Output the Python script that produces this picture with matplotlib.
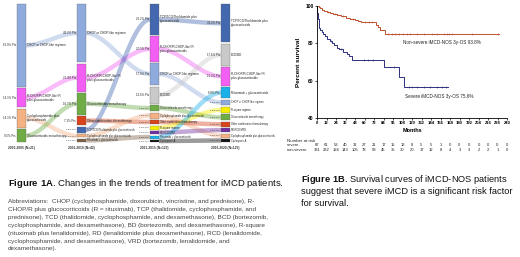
import numpy as np
import matplotlib.pyplot as plt
from matplotlib.transforms import blended_transform_factory

plt.rcParams['font.family'] = ['Liberation Sans', 'DejaVu Sans']
plt.rcParams['mathtext.fontset'] = 'custom'
plt.rcParams['mathtext.rm'] = 'Liberation Sans'
plt.rcParams['mathtext.bf'] = 'Liberation Sans:bold'

# ---------------- Figure 1A: treatment regimens per period ----------------
periods = ['2000-2005 (N=21)', '2006-2010 (N=42)', '2011-2015 (N=123)', '2016-2020 (N=125)']

col1_keys = ['CHOP', 'RCHOP', 'CYC', 'GC']
col1_pct = [61.90, 14.29, 14.29, 9.52]

col2_keys = ['CHOP', 'RCHOP', 'GC', 'OTHER', 'TCP', 'CYC', 'IMM']
col2_pct = [45.24, 21.43, 16.67, 7.14, 4.76, 2.38, 2.38]

col3_keys = ['TCP', 'RCHOP', 'CHOP', 'BCD', 'GC', 'CYC', 'OTHER', 'R2', 'RD', 'RITUX', 'CSA']
col3_pct = [25.20, 20.33, 17.89, 13.82, 4.88, 4.88, 3.25, 3.25, 2.44, 2.44, 1.63]

col4_keys = ['TCP', 'BCD', 'RCHOP', 'RITUX', 'CHOP', 'R2', 'GC', 'OTHER', 'RD', 'CYC', 'CSA']
col4_pct = [31.20, 17.60, 15.20, 8.80, 4.80, 4.80, 4.80, 4.00, 3.20, 3.20, 2.40]

flows_12 = [('CHOP', 'CHOP'), ('RCHOP', 'RCHOP'), ('CYC', 'CYC'), ('GC', 'GC')]
flows_23 = [('CHOP', 'CHOP'), ('RCHOP', 'RCHOP'), ('GC', 'GC'), ('OTHER', 'OTHER'),
            ('TCP', 'TCP'), ('CYC', 'CYC'), ('IMM', 'RITUX')]
flows_34 = [('TCP', 'TCP'), ('RCHOP', 'RCHOP'), ('CHOP', 'CHOP'), ('BCD', 'BCD'), ('GC', 'GC'),
            ('CYC', 'CYC'), ('OTHER', 'OTHER'), ('R2', 'R2'), ('RD', 'RD'), ('RITUX', 'RITUX'),
            ('CSA', 'CSA')]

names = {
    'CHOP': 'CHOP or CHOP-like regimen',
    'RCHOP': 'R-CHOP/R-CHOP-like/ R\nplus glucocorticoids',
    'CYC': 'Cyclophosphamide plus\nglucocorticoids',
    'GC': 'Glucocorticoids monotherapy',
    'OTHER': 'Other combination chemotherapy',
    'TCP': 'TCP/TCD/Thalidomide plus\nglucocorticoids',
    'IMM': 'Rituximab + glucocorticoids',
    'BCD': 'BCD/BD',
    'RITUX': 'Rituximab + glucocorticoids',
    'R2': 'R-square regimen',
    'RD': 'RD/RCD/VRD',
    'CSA': 'Cyclosporin A',
}
colors = {
    'CHOP': '#8faadc', 'RCHOP': '#f25ff2', 'CYC': '#f4b183', 'GC': '#6fac46',
    'OTHER': '#d8441c', 'TCP': '#4468b0', 'IMM': '#7f6045', 'BCD': '#c9c9c9',
    'RITUX': '#1ab0ea', 'R2': '#f7ef00', 'RD': '#7030a0', 'CSA': '#111111',
}

# ---------------- Figure 1B: Kaplan-Meier curves ----------------
ns_t = [0, 2, 4, 6, 9, 12, 16, 20, 25, 30, 36, 42, 48, 52, 56, 74, 77, 80, 86, 230]
ns_s = [100, 99.4, 98.8, 98.1, 97.5, 96.9, 96.2, 95.6, 95.0, 94.4, 93.8, 93.1, 92.4,
        91.8, 91.2, 90.0, 88.6, 87.1, 85.2, 85.2]
sv_t = [0, 0.5, 1, 2, 3, 4, 6, 8, 10, 13, 16, 19, 22, 25, 28, 33, 38, 41, 44, 84, 104, 110, 166]
sv_s = [100, 96.5, 93.0, 90.7, 88.4, 87.2, 86.0, 84.9, 83.7, 82.5, 81.3, 80.1, 78.9, 77.7,
        76.9, 75.6, 74.4, 73.1, 71.3, 67.4, 62.0, 56.5, 56.5]
ns_cens = [14, 23, 33, 45, 60, 66, 70, 90, 95, 99, 104, 109, 114, 118, 126, 135, 145, 152,
           160, 164, 167, 171, 196, 228]
sv_cens = [18, 30, 59, 65, 71, 97, 116, 120, 126, 135, 143, 152, 158, 163]

risk_months = list(range(0, 241, 12))
risk_severe = [87, 61, 53, 40, 31, 27, 21, 17, 15, 12, 8, 5, 5, 1, 0, 0, 0, 0, 0, 0, 0]
risk_nonsevere = [331, 232, 184, 143, 105, 78, 58, 45, 35, 30, 20, 17, 12, 8, 4, 3, 3, 2, 2, 1, 0]

fig = plt.figure(figsize=(5.2, 2.57), dpi=100)
ax = fig.add_axes([0, 0, 1, 1])
ax.set_xlim(0, 520)
ax.set_ylim(257, 0)
ax.axis('off')

# ---- sankey-like chart ----
bar_x = [17, 77, 150, 221]
bar_w = 9
top, bottom, gap = 4, 142, 1.5


def stack(keys, pct):
    avail = bottom - top - gap * (len(keys) - 1)
    pos = {}
    y = top
    for k, p in zip(keys, pct):
        h = avail * p / 100.0
        pos[k] = (y, h)
        y += h + gap
    return pos


cols = [(col1_keys, col1_pct), (col2_keys, col2_pct), (col3_keys, col3_pct), (col4_keys, col4_pct)]
stacks = [stack(k, p) for k, p in cols]

for i, flows in enumerate([flows_12, flows_23, flows_34]):
    x0 = bar_x[i] + bar_w
    x1 = bar_x[i + 1]
    for src, dst in flows:
        y0 = stacks[i][src][0] + stacks[i][src][1] / 2
        y1 = stacks[i + 1][dst][0] + stacks[i + 1][dst][1] / 2
        t = np.linspace(0, 1, 60)
        s = t * t * (3 - 2 * t)
        ax.plot(x0 + (x1 - x0) * t, y0 + (y1 - y0) * s, color=colors[src], lw=3.2,
                alpha=0.42, solid_capstyle='butt', zorder=1)

for i, ((keys, pct), st) in enumerate(zip(cols, stacks)):
    for k, p in zip(keys, pct):
        y, h = st[k]
        ax.add_patch(plt.Rectangle((bar_x[i], y), bar_w, h, facecolor=colors[k],
                                   edgecolor='#555555', lw=0.2, zorder=3))
        small = h < 8
        label = names[k].replace('\n', ' ') if small else names[k]
        ax.text(bar_x[i] - 1, y + h / 2, f'{p:.1f}% Pts', fontsize=1.7 if small else 2.1,
                ha='right', va='center', color='#222222', zorder=4)
        ax.text(bar_x[i] + bar_w + 1, y + h / 2, label, fontsize=1.8 if small else 2.2,
                ha='left', va='center', color='#222222', zorder=4, linespacing=1.0)
    ax.text(bar_x[i] + bar_w / 2, 147.5, periods[i], fontsize=2.3, ha='center',
            va='center', color='#333333', fontweight='bold')

# ---- captions ----
ax.text(8, 183, r'$\mathbf{Figure\ 1A}$. Changes in the trends of treatment for iMCD patients.',
        fontsize=6.8, va='center', ha='left', color='#111111')
abbrev = ['Abbreviations:  CHOP (cyclophosphamide, doxorubicin, vincristine, and prednisone), R-',
          'CHOP/R plus glucocorticoids (R = rituximab), TCP (thalidomide, cyclophosphamide, and',
          'prednisone), TCD (thalidomide, cyclophosphamide, and dexamethasone), BCD (bortezomib,',
          'cyclophosphamide, and dexamethasone), BD (bortezomib, and dexamethasone), R-square',
          '(rituximab plus lenalidomide), RD (lenalidomide plus dexamethasone), RCD (lenalidomide,',
          'cyclophosphamide, and dexamethasone), VRD (bortezomib, lenalidomide, and',
          'dexamethasone).']
for j, line in enumerate(abbrev):
    ax.text(8, 202 + j * 7.8, line, fontsize=4.6, va='center', ha='left', color='#444444')

cap_b = [r'$\mathbf{Figure\ 1B}$. Survival curves of iMCD-NOS patients',
         'suggest that severe iMCD is a significant risk factor',
         'for survival.']
for j, line in enumerate(cap_b):
    ax.text(301, 179 + j * 12, line, fontsize=6.7, va='center', ha='left', color='#111111')

# ---- KM plot ----
km = fig.add_axes([317 / 520, 1 - 118 / 257, 190 / 520, 112 / 257])
km.step(ns_t, ns_s, where='post', color='#c0502e', lw=0.7)
km.step(sv_t, sv_s, where='post', color='#2b2f7e', lw=0.7)


def surv_at(ts, ss, c):
    idx = np.searchsorted(ts, c, side='right') - 1
    return np.array(ss)[idx]


km.plot(ns_cens, surv_at(ns_t, ns_s, ns_cens), '|', color='#c0502e', ms=1.8, mew=0.4)
km.plot(sv_cens, surv_at(sv_t, sv_s, sv_cens), '|', color='#2b2f7e', ms=1.8, mew=0.4)
km.set_xlim(0, 240)
km.set_ylim(40, 100)
km.set_xticks(risk_months)
km.set_yticks([40, 60, 80, 100])
km.tick_params(axis='x', labelsize=3.0, length=1.5, width=0.5, pad=1)
km.tick_params(axis='y', labelsize=3.5, length=1.5, width=0.5, pad=1)
for lab in km.get_xticklabels() + km.get_yticklabels():
    lab.set_fontweight('bold')
km.spines['top'].set_visible(False)
km.spines['right'].set_visible(False)
km.spines['left'].set_linewidth(0.6)
km.spines['bottom'].set_linewidth(0.6)
km.patch.set_alpha(0)
km.set_xlabel('Months', fontsize=4.0, fontweight='bold', labelpad=1.5)
km.set_ylabel('Percent survival', fontsize=4.6, fontweight='bold', labelpad=3)
km.text(109, 80.5, 'Non-severe iMCD-NOS 3y-OS 93.8%', fontsize=3.3, color='#222222', va='center')
km.text(111, 51.3, 'Severe iMCD-NOS 3y-OS 75.6%', fontsize=3.3, color='#222222', va='center')

# number at risk table
tr = blended_transform_factory(km.transData, ax.transData)
ax.text(287, 141, 'Number at risk', fontsize=3.2, va='center', ha='left', color='#222222')
ax.text(287, 145.5, 'severe', fontsize=3.0, va='center', ha='left', color='#222222')
ax.text(287, 150, 'non-severe', fontsize=3.0, va='center', ha='left', color='#222222')
for m, a, b in zip(risk_months, risk_severe, risk_nonsevere):
    ax.text(m, 145.5, str(a), transform=tr, fontsize=3.0, ha='center', va='center', color='#222222')
    ax.text(m, 150, str(b), transform=tr, fontsize=3.0, ha='center', va='center', color='#222222')

fig.savefig('out.png', dpi=100)
